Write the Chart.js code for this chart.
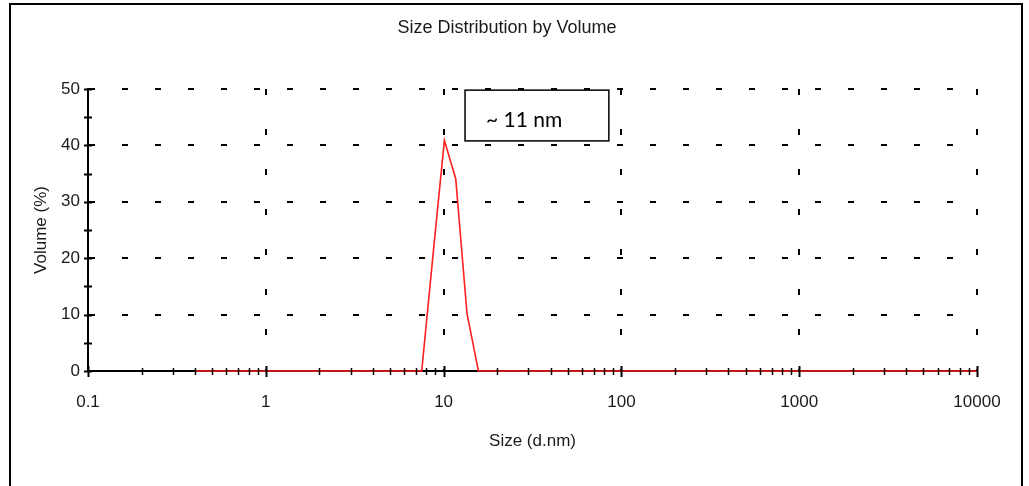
<!DOCTYPE html>
<html>
<head>
<meta charset="utf-8">
<script src="https://cdn.jsdelivr.net/npm/chart.js@4.4.0/dist/chart.umd.min.js"></script>
<style>
  html, body { margin: 0; padding: 0; background: #fff; overflow: hidden; }
  #kader { position: absolute; left: 9px; top: 3px; width: 1010px; height: 600px; border: 2px solid #000; }
  #grafiek { position: absolute; left: 0; top: 0; }
</style>
</head>
<body>
<div id="kader"></div>
<canvas id="grafiek" width="1029" height="486"></canvas>
<script>
// data
var sizes = [0.4, 7.531, 8.721, 10.1, 11.7, 13.54, 15.69, 10000];
var volume = [0, 0, 20.6, 40.9, 34.1, 10.2, 0, 0];
var decades = [0.1, 1, 10, 100, 1000, 10000];
var decadeLabels = ['0.1', '1', '10', '100', '1000', '10000'];
var minorSteps = [2, 3, 4, 5, 6, 7, 8, 9];
var volumeLabels = [0, 10, 20, 30, 40, 50];

var FONT = 'Liberation Sans, Arial, sans-serif';
var INK = '#1a1a1a';

function isDecade(v) {
  return decades.indexOf(v) >= 0;
}

// titel, tekstvak en streepjes op de assen
var extras = {
  id: 'extras',
  afterDraw: function(chart) {
    var ctx = chart.ctx;
    var xs = chart.scales.x;
    var ys = chart.scales.y;
    ctx.save();

    // titel
    ctx.fillStyle = INK;
    ctx.font = '18px ' + FONT;
    ctx.textAlign = 'center';
    ctx.textBaseline = 'middle';
    ctx.fillText('Size Distribution by Volume', 507, 28);

    // streepjes x-as
    ctx.strokeStyle = '#000';
    xs.ticks.forEach(function(t) {
      var px = Math.round(xs.getPixelForValue(t.value)) + 0.5;
      var big = isDecade(t.value);
      ctx.lineWidth = big ? 2 : 1.5;
      ctx.beginPath();
      ctx.moveTo(px, ys.bottom - (big ? 5 : 3));
      ctx.lineTo(px, ys.bottom + (big ? 6 : 4));
      ctx.stroke();
    });

    // streepjes y-as
    ys.ticks.forEach(function(t) {
      var py = Math.round(ys.getPixelForValue(t.value)) + 0.5;
      ctx.lineWidth = 2;
      ctx.beginPath();
      ctx.moveTo(xs.left - 4, py);
      ctx.lineTo(xs.left + 4, py);
      ctx.stroke();
    });

    // tekstvak
    var bx1 = xs.getPixelForValue(13.2), bx2 = xs.getPixelForValue(85);
    var by1 = ys.getPixelForValue(49.8), by2 = ys.getPixelForValue(40.8);
    ctx.fillStyle = '#fff';
    ctx.fillRect(bx1, by1, bx2 - bx1, by2 - by1);
    ctx.lineWidth = 1.5;
    ctx.strokeStyle = '#000';
    ctx.strokeRect(bx1, by1, bx2 - bx1, by2 - by1);
    ctx.fillStyle = '#000';
    ctx.font = '21px Lato, Carlito, sans-serif';
    ctx.textAlign = 'left';
    ctx.textBaseline = 'alphabetic';
    ctx.fillText('~ 11 nm', bx1 + 21, by1 + 37);

    ctx.restore();
  }
};

function verdeling() {
  var ctx = document.getElementById('grafiek');
  var myChart = new Chart(ctx, {
    type: 'line',
    data: {
      datasets: [{
        data: sizes.map(function(s, i) { return { x: s, y: volume[i] }; }),
        borderColor: '#ff1f1f',
        borderWidth: 1.6,
        pointRadius: 0,
        tension: 0,
        clip: false
      }]
    },
    options: {
      responsive: false,
      animation: false,
      devicePixelRatio: 1,
      layout: {
        padding: { top: 89, right: 52, left: 0, bottom: 0 }
      },
      scales: {
        x: { // X-as
          type: 'logarithmic',
          min: 0.1,
          max: 10000,
          afterBuildTicks: function(scale) {
            var t = [];
            decades.forEach(function(d, i) {
              t.push({ value: d });
              if (i < decades.length - 1) {
                minorSteps.forEach(function(m) { t.push({ value: d * m }); });
              }
            });
            scale.ticks = t;
          },
          afterFit: function(scale) { scale.height = 115; },
          ticks: {
            autoSkip: false,
            maxRotation: 0,
            padding: 21,
            color: INK,
            font: { family: FONT, size: 17 },
            callback: function(value) {
              var i = decades.indexOf(value);
              return i >= 0 ? decadeLabels[i] : '';
            }
          },
          grid: {
            color: function(c) {
              return (c.tick && isDecade(c.tick.value) && c.tick.value > 0.1) ? '#000' : 'rgba(0,0,0,0)';
            },
            lineWidth: 2,
            drawTicks: false
          },
          border: { color: '#000', width: 2, dash: [6, 34] },
          title: {
            display: true,
            text: 'Size (d.nm)',
            color: INK,
            font: { family: FONT, size: 17 },
            padding: { top: 0, bottom: 34 }
          }
        },
        y: { // Y-as
          min: 0,
          max: 50,
          afterFit: function(scale) { scale.width = 88; },
          ticks: {
            stepSize: 5,
            padding: 8,
            color: INK,
            font: { family: FONT, size: 17 },
            callback: function(value) {
              return volumeLabels.indexOf(value) >= 0 ? String(value) : '';
            }
          },
          grid: {
            color: function(c) {
              return (c.tick && c.tick.value > 0 && c.tick.value % 10 === 0) ? '#000' : 'rgba(0,0,0,0)';
            },
            lineWidth: 2,
            drawTicks: false
          },
          border: { color: '#000', width: 2, dash: [6, 27] },
          title: {
            display: true,
            text: 'Volume (%)',
            color: INK,
            font: { family: FONT, size: 17 },
            padding: { top: 31, bottom: 0 }
          }
        }
      },
      plugins: {
        legend: { display: false },
        tooltip: { enabled: false }
      }
    },
    plugins: [extras]
  });
}

window.onload = function() {
  verdeling();
};
</script>
</body>
</html>
